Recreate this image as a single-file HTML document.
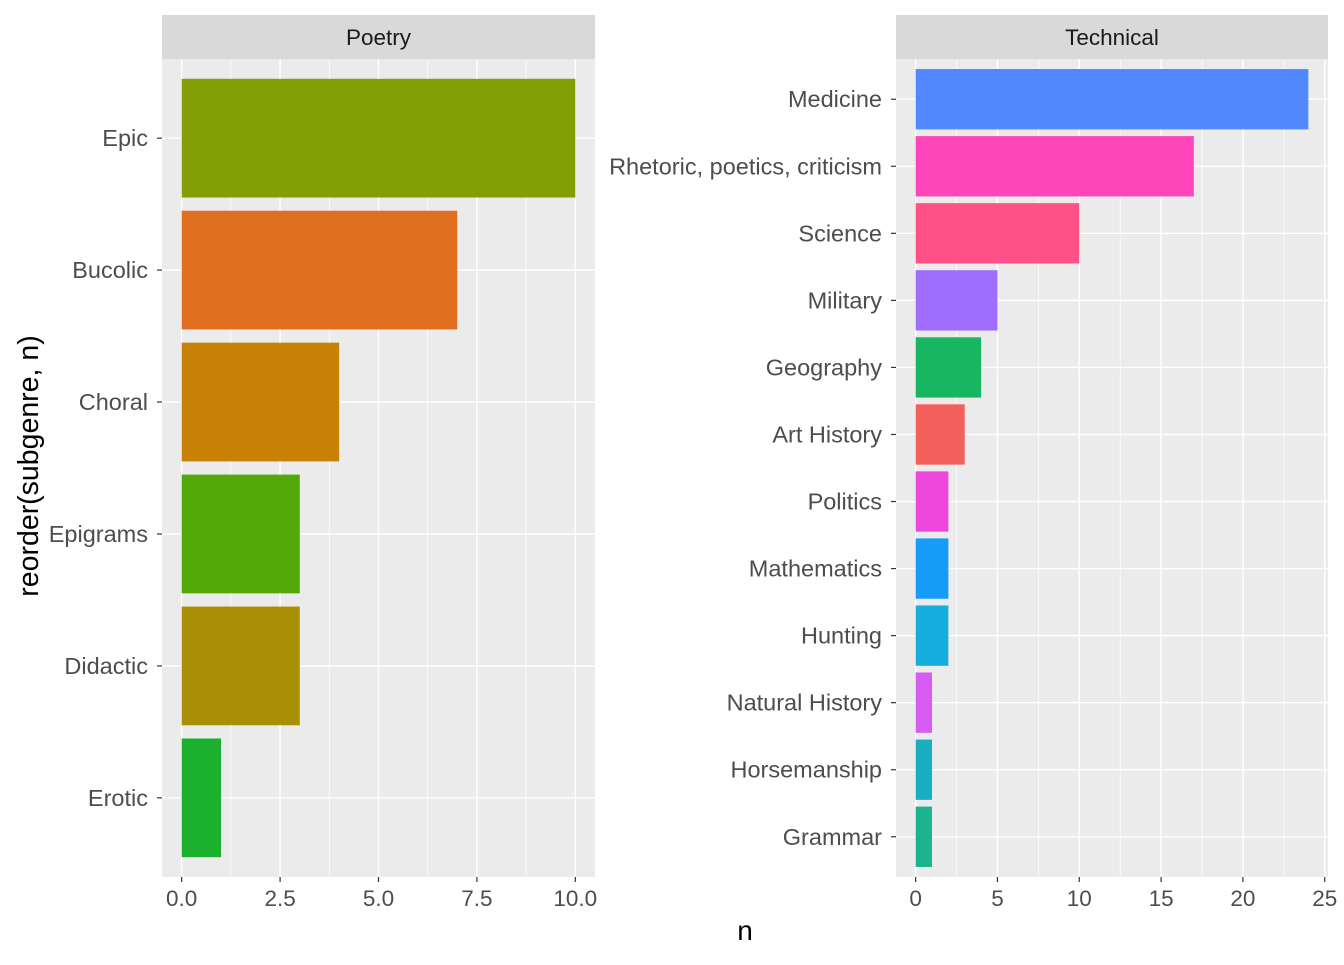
<!DOCTYPE html>
<html><head><meta charset="utf-8">
<style>
body{margin:0;background:#fff;}
svg text{font-family:"Liberation Sans",Arial,sans-serif;}
</style></head>
<body>
<svg id="chart" width="1344" height="960" xmlns="http://www.w3.org/2000/svg"></svg>
<script>
const poetryCats = ["Epic","Bucolic","Choral","Epigrams","Didactic","Erotic"];
const poetryVals = [10,7,4,3,3,1];
const poetryColors = ["#849E06","#E07020","#C78105","#52A806","#A88F04","#1BB12F"];
const poetryTicks = [0,2.5,5,7.5,10];
const poetryTickLabels = ["0.0","2.5","5.0","7.5","10.0"];

const techCats = ["Medicine","Rhetoric, poetics, criticism","Science","Military","Geography","Art History","Politics","Mathematics","Hunting","Natural History","Horsemanship","Grammar"];
const techVals = [24,17,10,5,4,3,2,2,2,1,1,1];
const techColors = ["#5288FF","#FF45BA","#FF5088","#A06EFF","#18B660","#F4605C","#EE47DC","#149CF8","#14ADDE","#D85BF2","#19AFC0","#1DB38E"];
const techTicks = [0,5,10,15,20,25];
const techTickLabels = ["0","5","10","15","20","25"];

const NS="http://www.w3.org/2000/svg";
const svg=document.getElementById('chart');
function mk(tag,attrs,parent){const e=document.createElementNS(NS,tag);for(const k in attrs)e.setAttribute(k,attrs[k]);(parent||svg).appendChild(e);return e;}

function panel(name,title,x0,x1,cats,vals,colors,ticks,tickLabels){
  const y0=59,y1=877;
  const g=mk('g',{});
  
  
  const max=Math.max(...vals);
  const dmin=-0.05*max,dmax=max*1.05;
  const xs=v=>x0+(v-dmin)/(dmax-dmin)*(x1-x0);
  const n=cats.length;
  const step=(y1-y0)/(n+0.2);
  const ys=i=>y0+(0.6+i)*step;
  const strip=mk('rect',{x:x0,y:15,width:x1-x0,height:44,fill:'#D9D9D9'},g);
  
  
  const st=mk('text',{x:(x0+x1)/2,y:45,'text-anchor':'middle','font-size':'22.5',fill:'#1A1A1A'},g);
  st.textContent=title;
  
  
  const bg=mk('rect',{x:x0,y:y0,width:x1-x0,height:y1-y0,fill:'#EBEBEB'},g);
  
  
  const tstep=ticks[1]-ticks[0];
  for(let t=ticks[0]-tstep/2;t<=dmax;t+=tstep){
    if(t<dmin)continue;
    const l=mk('line',{x1:xs(t),x2:xs(t),y1:y0,y2:y1,stroke:'#fff','stroke-width':0.7},g);
    
    
  }
  ticks.forEach((t,i)=>{
    const l=mk('line',{x1:xs(t),x2:xs(t),y1:y0,y2:y1,stroke:'#fff','stroke-width':1.4},g);
    
    
    const tk=mk('line',{x1:xs(t),x2:xs(t),y1:y1,y2:y1+5,stroke:'#333','stroke-width':1.2},g);
    
    
    const tl=mk('text',{x:xs(t),y:y1+29,'text-anchor':'middle','font-size':'22.5',fill:'#4D4D4D'},g);
    tl.textContent=tickLabels[i];
    
    
  });
  cats.forEach((c,i)=>{
    const y=ys(i);
    const l=mk('line',{x1:x0,x2:x1,y1:y,y2:y,stroke:'#fff','stroke-width':1.4},g);
    
    
  });
  cats.forEach((c,i)=>{
    const y=ys(i),h=step*0.9;
    const b=mk('rect',{x:xs(0),y:y-h/2,width:xs(vals[i])-xs(0),height:h,fill:colors[i]},g);
    
    
    const tk=mk('line',{x1:x0-5,x2:x0,y1:y,y2:y,stroke:'#333','stroke-width':1.2},g);
    
    
    const tl=mk('text',{x:x0-14,y:y+8,'text-anchor':'end','font-size':'23.5',fill:'#4D4D4D'},g);
    tl.textContent=c;
    
    
  });
}
panel('poetry','Poetry',162,595,poetryCats,poetryVals,poetryColors,poetryTicks,poetryTickLabels);
panel('technical','Technical',896,1328,techCats,techVals,techColors,techTicks,techTickLabels);

const xt=mk('text',{x:745,y:940,'text-anchor':'middle','font-size':'28',fill:'#000'});
xt.textContent='n';


const yt=mk('text',{x:0,y:0,'text-anchor':'middle','font-size':'28.5',fill:'#000',transform:'translate(38,466) rotate(-90)'});
yt.textContent='reorder(subgenre, n)';


</script>
</body></html>
